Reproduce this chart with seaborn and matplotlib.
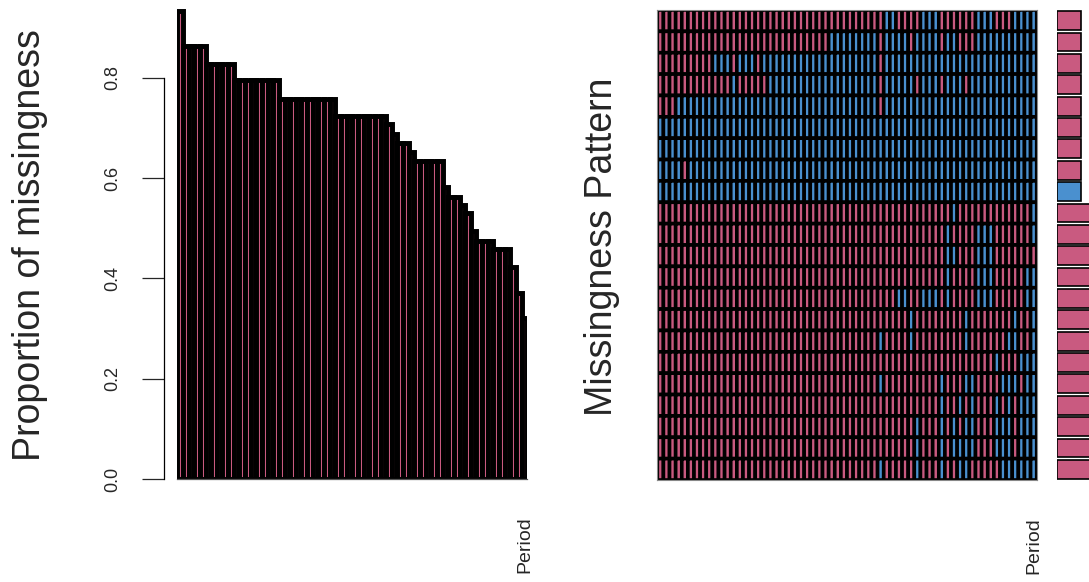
import numpy as np
import pandas as pd
import matplotlib.pyplot as plt
from matplotlib.colors import ListedColormap
import seaborn as sns

sns.set_style("white")
plt.rcParams['font.family'] = ['Liberation Sans', 'DejaVu Sans']

# colours: observed / missing
obs_col = "#4a90cf"
miss_col = "#c95a80"

# proportion of missing values per variable (sorted)
prop_missing = [0.934,
                0.863, 0.863, 0.863, 0.863,
                0.827, 0.827, 0.827, 0.827, 0.827,
                0.795, 0.795, 0.795, 0.795, 0.795, 0.795, 0.795, 0.795,
                0.757, 0.757, 0.757, 0.757, 0.757, 0.757, 0.757, 0.757, 0.757, 0.757,
                0.723, 0.723, 0.723, 0.723, 0.723, 0.723, 0.723, 0.723, 0.723,
                0.707, 0.687, 0.670, 0.670, 0.651,
                0.634, 0.634, 0.634, 0.634, 0.634,
                0.582, 0.563, 0.563, 0.547, 0.531, 0.495,
                0.474, 0.474, 0.474, 0.458, 0.458, 0.458,
                0.422, 0.371, 0.320]
last_label = "Period"

# missingness pattern, one string per combination (1 = missing, 0 = observed)
patterns = [
    "1111111111" "1111111111" "1111111111" "1111111001" "1110001111" "1100011100" "00",
    "1111111111" "1111111111" "1111111100" "0000001000" "0100001001" "1100000000" "00",
    "1111111110" "0010001000" "0000000000" "0000001000" "0000000000" "0000000000" "00",
    "1111111111" "1101111100" "0000000000" "0000001000" "0010001000" "1000000000" "00",
    "1110000000" "0000000000" "0000000000" "0000001000" "0000000000" "0000000000" "00",
    "0000000000" "0000000000" "0000000000" "0000000000" "0000000000" "0000000000" "00",
    "0000000000" "0000000000" "0000000000" "0000000000" "0000000000" "0000000000" "00",
    "0000100000" "0000000000" "0000000000" "0000000000" "0000000000" "0000000000" "00",
    "0000000000" "0000000000" "0000000000" "0000000000" "0000000000" "0000000000" "00",
    "1111111111" "1111111111" "1111111111" "1111111111" "1111111101" "1111111111" "10",
    "1111111111" "1111111111" "1111111111" "1111111111" "1111111011" "1100011111" "10",
    "1111111111" "1111111111" "1111111111" "1111111111" "1111111001" "1100011111" "11",
    "1111111111" "1111111111" "1111111111" "1111111111" "1111111011" "1100011111" "00",
    "1111111111" "1111111111" "1111111111" "1111111110" "0110001011" "1100011111" "00",
    "1111111111" "1111111111" "1111111111" "1111111111" "1011111111" "0111111101" "10",
    "1111111111" "1111111111" "1111111111" "1111110111" "1011111111" "0111111001" "10",
    "1111111111" "1111111111" "1111111111" "1111111111" "1111111111" "1111101110" "00",
    "1111111111" "1111111111" "1111111111" "1111110111" "1111110111" "0011110001" "00",
    "1111111111" "1111111111" "1111111111" "1111111111" "1111110110" "1011101010" "00",
    "1111111111" "1111111111" "1111111111" "1111111111" "1101110101" "0011100010" "00",
    "1111111111" "1111111111" "1111111111" "1111111111" "1101110100" "0011100010" "00",
    "1111111111" "1111111111" "1111111111" "1111110111" "1101110110" "0111110000" "00",
]
# frequency of each combination (bars on the far right, mostly cut off)
comb_freq = [1, 1, 1, 1, 1, 1, 1, 1, 1, 2, 2, 2, 2, 2, 2, 2, 2, 2, 2, 2, 2, 2]
complete_row = 8   # the combination with no missing values is drawn in blue

pat = pd.DataFrame([[int(c) for c in s] for s in patterns])
n_var = len(prop_missing)
n_comb = len(comb_freq)
W, H = 1089, 582

fig = plt.figure(figsize=(W / 100, H / 100), dpi=100)

# ---- left: proportion of missingness
ax1 = fig.add_axes([177.3 / W, (H - 479) / H, 350 / W, 474 / H])
sns.barplot(x=list(range(n_var)), y=prop_missing, color=miss_col, saturation=1,
            width=1.0, edgecolor="black", linewidth=3.55, ax=ax1)
ax1.set_xlim(-0.5, n_var - 0.5)
ax1.set_ylim(0, 0.945)
sns.despine(ax=ax1, top=True, right=True)
ax1.spines['left'].set_position(('outward', 9.4))
ax1.spines['left'].set_bounds(0, 0.8)
ax1.spines['left'].set_linewidth(0.9)
ax1.spines['left'].set_color('black')
ax1.spines['bottom'].set_linewidth(0.9)
ax1.spines['bottom'].set_color('#555555')
ax1.set_yticks([0.0, 0.2, 0.4, 0.6, 0.8])
ax1.set_yticklabels(["0.0", "0.2", "0.4", "0.6", "0.8"])
ax1.tick_params(axis='y', direction='out', length=15.8, width=0.9, pad=15,
                labelsize=13, labelrotation=90, left=True)
for t in ax1.get_yticklabels():
    t.set_va('center')
ax1.set_xticks([n_var - 1])
ax1.set_xticklabels([last_label], rotation=90, fontsize=14, va='top')
ax1.tick_params(axis='x', length=0, pad=27)
ax1.set_xlabel("")
ax1.set_ylabel("")

# ---- middle: missingness pattern
ax2 = fig.add_axes([657.3 / W, (H - 480) / H, 379.4 / W, 470 / H])
sns.heatmap(pat, cmap=ListedColormap([obs_col, miss_col]), vmin=0, vmax=1,
            cbar=False, linewidths=2.6, linecolor="black", antialiased=True,
            snap=False, xticklabels=False, yticklabels=False, ax=ax2)
ax2.set_xticks([n_var - 0.5])
ax2.set_xticklabels([last_label], rotation=90, fontsize=14, va='top')
ax2.tick_params(axis='x', length=0, pad=27)
ax2.set_ylabel("")
for s in ax2.spines.values():
    s.set_visible(True)
    s.set_color('#888888')
    s.set_linewidth(0.8)

# ---- right: combination frequencies (cut off by the figure edge)
ax3 = fig.add_axes([1057 / W, (H - 480) / H, 72 / W, 470 / H])
bar_cols = [obs_col if i == complete_row else miss_col for i in range(n_comb)]
sns.barplot(x=comb_freq, y=list(range(n_comb)), orient='h', hue=list(range(n_comb)),
            palette=bar_cols, saturation=1, legend=False, width=0.88,
            edgecolor="black", linewidth=1.2, ax=ax3)
ax3.set_xlim(0, 3)
ax3.set_ylim(n_comb - 0.5, -0.5)
ax3.axis('off')

fig.text(30 / W, 1 - 245 / H, "Proportion of missingness", rotation=90,
         ha='center', va='center', fontsize=27)
fig.text(602 / W, 1 - 247 / H, "Missingness Pattern", rotation=90,
         ha='center', va='center', fontsize=27)

fig.savefig("out.png", dpi=100)
